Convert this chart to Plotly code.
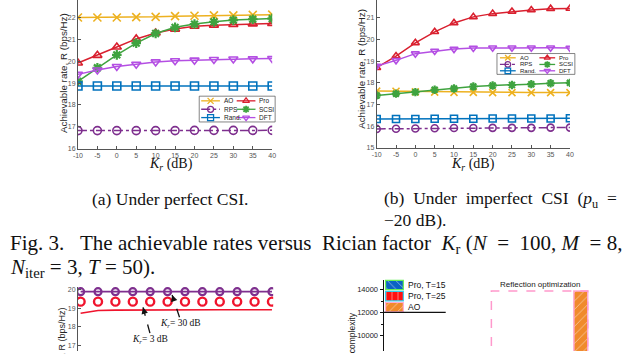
import plotly.graph_objects as go

W, H = 640, 354
SANS = "Liberation Sans, Arial, sans-serif"
SERIF = "Liberation Serif, Times New Roman, serif"
NB = "\u00a0"


def fx(px):
    return px / W


def fy(py):
    return 1 - py / H


# Rician factor K_r (dB)
kr = [-10, -5, 0, 5, 10, 15, 20, 25, 30, 35, 40]
kr_text = ["-10", "-5", "0", "5", "10", "15", "20", "25", "30", "35", "40"]

series_names = ["AO", "Pro", "RPS", "SCSI", "Rand.", "DFT"]

# (a) perfect CSI
a_ao = [22.0, 22.0, 22.0, 22.02, 22.03, 22.06, 22.08, 22.1, 22.1, 22.12, 22.13]
a_pro = [19.92, 20.27, 20.65, 21.02, 21.29, 21.47, 21.6, 21.65, 21.68, 21.71, 21.73]
a_rps = [16.83, 16.83, 16.83, 16.83, 16.83, 16.83, 16.84, 16.84, 16.84, 16.84, 16.84]
a_scsi = [19.08, 19.7, 20.29, 20.83, 21.27, 21.55, 21.7, 21.8, 21.88, 21.92, 21.95]
a_rand = [18.87, 18.87, 18.87, 18.87, 18.87, 18.87, 18.87, 18.87, 18.87, 18.87, 18.87]
a_dft = [19.4, 19.6, 19.76, 19.86, 19.97, 20.02, 20.05, 20.08, 20.1, 20.11, 20.12]

# (b) imperfect CSI
b_ao = [17.62, 17.61, 17.58, 17.57, 17.56, 17.56, 17.55, 17.55, 17.55, 17.55, 17.55]
b_pro = [18.7, 19.24, 19.85, 20.36, 20.77, 21.05, 21.2, 21.3, 21.37, 21.43, 21.44]
b_rps = [15.87, 15.88, 15.89, 15.9, 15.91, 15.91, 15.92, 15.92, 15.92, 15.93, 15.93]
b_scsi = [17.42, 17.5, 17.57, 17.68, 17.74, 17.83, 17.88, 17.9, 17.94, 17.98, 18.0]
b_rand = [16.33, 16.33, 16.33, 16.34, 16.34, 16.34, 16.35, 16.35, 16.35, 16.35, 16.36]
b_dft = [18.78, 19.04, 19.35, 19.47, 19.56, 19.61, 19.62, 19.62, 19.62, 19.62, 19.61]

perfect = [a_ao, a_pro, a_rps, a_scsi, a_rand, a_dft]
imperfect = [b_ao, b_pro, b_rps, b_scsi, b_rand, b_dft]

# next figure (partly visible): rate curves
c_idx = [1, 2, 3, 4, 5, 6, 7, 8, 9, 10, 11, 12]
c_kr30 = [19.9, 19.9, 19.9, 19.9, 19.9, 19.9, 19.9, 19.9, 19.9, 19.9, 19.9, 19.9]
c_circ = [19.36, 19.36, 19.36, 19.36, 19.36, 19.36, 19.36, 19.36, 19.36, 19.36, 19.36, 19.36]
c_kr3 = [18.73, 18.88, 18.9, 18.91, 18.91, 18.92, 18.92, 18.92, 18.92, 18.92, 18.92, 18.92]

# next figure (partly visible): complexity bars
d_names = ["Pro, T=15", "Pro, T=25", "AO"]
d_pos = [2.0, 2.5, 3.125]
d_vals = [3200, 4600, 13900]

styles = {
    "AO": dict(color="#EDB120", symbol="x-thin-open", dash="solid", mlw=1.6),
    "Pro": dict(color="#D9202F", symbol="triangle-up-open", dash="solid", mlw=1.6),
    "RPS": dict(color="#7E2F8E", symbol="circle-open", dash="dashdot", mlw=1.6),
    "SCSI": dict(color="#3FA33F", symbol="asterisk-open", dash="solid", mlw=2.2),
    "Rand.": dict(color="#0072BD", symbol="square-open", dash="solid", mlw=1.6),
    "DFT": dict(color="#B44FE3", symbol="triangle-down-open", dash="solid", mlw=1.6),
}
bar_styles = [
    dict(color="#0B63C4", edge="#66EE55", shape="\\"),
    dict(color="#FF1010", edge="#33CCEE", shape="|"),
    dict(color="#F08A2C", edge="#FFAAD5", shape="/"),
]

fig = go.Figure()


def ann(px, py, text, **kw):
    opts = dict(xref="paper", yref="paper", x=fx(px), y=fy(py), text=text, showarrow=False,
                xanchor="center", yanchor="middle")
    opts.update(kw)
    fig.add_annotation(**opts)


for name, ya, yb in zip(series_names, perfect, imperfect):
    st = styles[name]
    for xa, yax, vals, ms in (("x", "y", ya, 8), ("x2", "y2", yb, 7)):
        fig.add_trace(go.Scatter(
            x=kr, y=vals, xaxis=xa, yaxis=yax, mode="lines+markers",
            line=dict(color=st["color"], width=1.5, dash=st["dash"]),
            marker=dict(symbol=st["symbol"], size=ms, color=st["color"],
                        line=dict(color=st["color"], width=st["mlw"])),
            showlegend=False))

# bottom-left partial figure
fig.add_trace(go.Scatter(x=c_idx, y=c_kr30, xaxis="x3", yaxis="y3", mode="lines+markers",
                         line=dict(color="#7E2F8E", width=1.8),
                         marker=dict(symbol="circle-open", size=7, color="#7E2F8E",
                                     line=dict(width=2.2, color="#7E2F8E")),
                         showlegend=False))
fig.add_trace(go.Scatter(x=c_idx, y=c_circ, xaxis="x3", yaxis="y3", mode="markers",
                         marker=dict(symbol="circle-open", size=8, color="#F0142D",
                                     line=dict(width=2.4, color="#F0142D")),
                         showlegend=False))
fig.add_trace(go.Scatter(x=c_idx, y=c_kr3, xaxis="x3", yaxis="y3", mode="lines",
                         line=dict(color="#F0142D", width=1.6), showlegend=False))

# bottom-right partial figure
for name, pos, val, bs in zip(d_names, d_pos, d_vals, bar_styles):
    fig.add_trace(go.Bar(x=[pos], y=[val], width=0.22, xaxis="x4", yaxis="y4",
                         marker=dict(color=bs["color"], line=dict(color=bs["edge"], width=1.5),
                                     pattern=dict(shape=bs["shape"], fgcolor="white", size=6, solidity=0.15)),
                         showlegend=False))


def add_legend(box, col_x, row_y, seg, fsize, msize):
    x0, y0, x1, y1 = box
    fig.add_shape(type="rect", xref="paper", yref="paper", x0=fx(x0), x1=fx(x1),
                  y0=fy(y1), y1=fy(y0), line=dict(color="#333", width=0.6),
                  fillcolor="white", layer="below")
    for i, name in enumerate(series_names):
        r, c = divmod(i, 2)
        lx, ly = col_x[c], row_y[r]
        st = styles[name]
        fig.add_trace(go.Scatter(x=[lx, lx + seg], y=[ly, ly], xaxis="x5", yaxis="y5", mode="lines",
                                 line=dict(color=st["color"], width=1.3, dash=st["dash"]),
                                 showlegend=False))
        fig.add_trace(go.Scatter(x=[lx + seg / 2], y=[ly], xaxis="x5", yaxis="y5", mode="markers",
                                 marker=dict(symbol=st["symbol"], size=msize, color=st["color"],
                                             line=dict(color=st["color"], width=st["mlw"] * 0.8)),
                                 showlegend=False))
        ann(lx + seg + 2, ly, name, xanchor="left", font=dict(family=SANS, size=fsize, color="#222"))


add_legend((197, 97, 274, 123), (199, 235), (101.7, 110.2, 118.6), 19, 6.5, 6)
add_legend((499, 54, 578, 75), (502, 542), (58.3, 65.0, 71.4), 16, 6, 5.5)

# legend of the complexity bars
for i, (name, bs) in enumerate(zip(d_names, bar_styles)):
    top = 282.7 + i * 11.2
    fig.add_trace(go.Bar(x=[395], y=[9.5], base=[top], width=[18], xaxis="x5", yaxis="y5",
                         marker=dict(color=bs["color"], line=dict(color=bs["edge"], width=1.2),
                                     pattern=dict(shape=bs["shape"], fgcolor="white", size=6, solidity=0.15)),
                         showlegend=False))
    ann(407, top + 4.8, name, xanchor="left", font=dict(family=SANS, size=8.5, color="#111"))

fig.add_shape(type="line", xref="paper", yref="paper", x0=fx(384), x1=fx(447), y0=fy(315), y1=fy(315),
              line=dict(color="#111", width=1.2))
fig.add_shape(type="rect", xref="x4", yref="y4", x0=1.708, x1=d_pos[2] + 0.11, y0=8000, y1=d_vals[2],
              line=dict(color="#FF99CC", width=1.5, dash="dash"), layer="above")

tick_font = dict(family=SANS, size=7, color="#555")
base_axis = dict(showline=True, linecolor="#555", linewidth=0.8, ticks="inside", ticklen=3,
                 tickcolor="#555", tickfont=tick_font, showgrid=False, zeroline=False)

fig.update_layout(
    width=W, height=H, autosize=False,
    margin=dict(l=0, r=0, t=0, b=0),
    paper_bgcolor="white", plot_bgcolor="rgba(0,0,0,0)",
    barmode="overlay", showlegend=False,
    xaxis=dict(base_axis, domain=[fx(74), fx(271)], range=[-10, 40], tickvals=kr, ticktext=kr_text, anchor="y"),
    yaxis=dict(base_axis, domain=[fy(150), 1], range=[16, 22.8], tickvals=[16, 17, 18, 19, 20, 21, 22], anchor="x"),
    xaxis2=dict(base_axis, domain=[fx(377), fx(573)], range=[-10, 40], tickvals=kr, ticktext=kr_text, anchor="y2"),
    yaxis2=dict(base_axis, domain=[fy(149), 1], range=[15, 21.83], tickvals=[15, 16, 17, 18, 19, 20, 21], anchor="x2"),
    xaxis3=dict(domain=[fx(74), fx(272)], range=[0.847, 12.07], visible=False, anchor="y3"),
    yaxis3=dict(base_axis, domain=[0, fy(289)], range=[16.68, 20.18], tickvals=[17, 18, 19, 20], anchor="x3"),
    xaxis4=dict(domain=[fx(384), 1], range=[0, 4], visible=False, anchor="y4"),
    yaxis4=dict(domain=[0, fy(282)], range=[8635, 14896], showline=True, linecolor="#111", linewidth=1.2,
                ticks="outside", ticklen=3, tickcolor="#111", showgrid=False, zeroline=False,
                tickvals=[10000, 12000, 14000], ticktext=["10000", "12000", "14000"],
                tickfont=dict(family=SANS, size=7.5, color="#222"),
                minor=dict(tickvals=[11000, 13000], ticks="outside", ticklen=2, tickcolor="#111"),
                anchor="x4"),
    xaxis5=dict(domain=[0, 1], range=[0, W], visible=False, anchor="y5"),
    yaxis5=dict(domain=[0, 1], range=[H, 0], visible=False, anchor="x5"),
)

# axis titles
for x, y in ((60, 73.5), (362, 69.5)):
    ann(x, y, "Achievable rate, R (bps/Hz)", textangle=-90,
        font=dict(family=SANS, size=9.8, color="#262626"))
for x in (168, 475):
    ann(x, 166, "<i>K</i><sub><i>r</i></sub> (dB)", font=dict(family=SERIF, size=14, color="#111"))
ann(58, 308, "Achievable rate, R (bps/Hz)", textangle=-90, yanchor="top",
    font=dict(family=SANS, size=9, color="#262626"))
ann(352, 313, "Computational complexity", textangle=-90, yanchor="top",
    font=dict(family=SANS, size=8.5, color="#222"))
ann(543, 287, "Reflection optimization", font=dict(family=SANS, size=8, color="#222"))

# K_r callouts in the partial figure
for label, tx, ty, tip, tail in (("<i>K</i><sub><i>r</i></sub>= 30 dB", 178, 326, (169.5, 297.5), (177, 320)),
                                 ("<i>K</i><sub><i>r</i></sub>= 3 dB", 147, 342.5, (140, 310), (147, 336))):
    fig.add_shape(type="line", xref="paper", yref="paper", x0=fx(tail[0]), y0=fy(tail[1]),
                  x1=fx(tip[0]), y1=fy(tip[1]), line=dict(color="#111", width=1.3, dash="dash"))
    dx, dy = tail[0] - tip[0], tail[1] - tip[1]
    n = (dx * dx + dy * dy) ** 0.5
    ann(tip[0], tip[1], "", showarrow=True, arrowhead=2, arrowsize=1, arrowwidth=1.3,
        arrowcolor="#111", ax=dx / n * 7, ay=dy / n * 7)
    ann(tx, ty, label, font=dict(family=SERIF, size=9.5, color="#111"))

# captions
cap_font = dict(family=SERIF, size=17.5, color="#111")
ann(167, 201, "(a) Under perfect CSI.", font=cap_font)
ann(382, 201, (NB * 2).join(["(b)", "Under", "imperfect", "CSI", "(<i>p</i><sub>u</sub>", "="]),
    xanchor="left", font=cap_font)
ann(382, 222, "\u221220 dB).", xanchor="left", font=cap_font)
big_font = dict(family=SERIF, size=21, color="#111")
line1 = ("Fig. 3." + NB * 3 + "The achievable rates versus" + NB + " Rician factor" + NB
         + " <i>K</i><sub>r</sub> (<i>N</i>" + NB + " =" + NB + " 100, <i>M</i>" + NB + " = 8,")
ann(3, 246, line1, xanchor="left", font=big_font)
ann(3, 270, "<i>N</i><sub>iter</sub> = 3, <i>T</i> = 50).", xanchor="left", font=big_font)

# the page body has a default 8px margin; drop it so the figure fills the window
fig.write_html("out.html", config={"displayModeBar": False},
               post_script="document.body.style.margin = '0px';")
